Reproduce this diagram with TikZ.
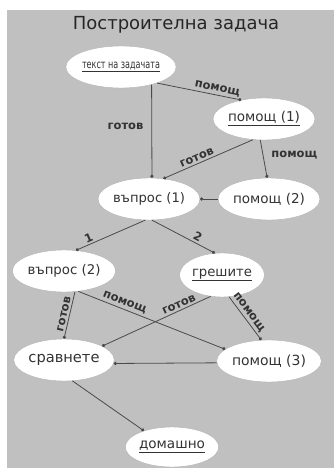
\documentclass[tikz,border=0pt]{standalone}
\usepackage{fontspec}
\setmainfont{DejaVu Sans}
\usetikzlibrary{shapes.geometric,arrows.meta}
\definecolor{bg}{HTML}{C0C0C0}
\definecolor{ln}{HTML}{4A4A4A}
\definecolor{tx}{HTML}{333333}
\begin{document}
\begin{tikzpicture}[x=1pt,y=-1pt,
  nd/.style={ellipse, draw=gray!60, fill=white, inner sep=0pt, minimum width=80pt, minimum height=42pt, text=tx},
  lab/.style={font=\fontsize{11.5}{13}\selectfont\bfseries, text=tx, inner sep=2pt},
  ar/.style={draw=ln, line width=0.8pt, -{Circle[length=3.2pt]}}]
\useasboundingbox (0,0) rectangle (336,468);
\fill[white] (0,0) rectangle (336,468);
\fill[bg] (7,10) rectangle (334,468);
\node[font=\fontsize{18}{20}\selectfont, text=black!85] (title) at (176,25) {Построителна задача};
\node[nd, minimum width=86pt, minimum height=42pt] (T) at (121,67) {\scalebox{0.7}[1]{\fontsize{11.5}{13}\selectfont\underline{текст на задачата}}};
\node[nd] (P1) at (264,119) {\resizebox{72pt}{!}{\underline{помощ (1)}}};
\node[nd] (Q1) at (149,199) {\resizebox{72pt}{!}{въпрос (1)}};
\node[nd] (P2) at (269,199) {\resizebox{72pt}{!}{помощ (2)}};
\node[nd] (Q2) at (64,271) {\resizebox{73pt}{!}{въпрос (2)}};
\node[nd, minimum height=44pt] (G) at (222,275) {\resizebox{60pt}{!}{\underline{грешите}}};
\node[nd, minimum width=82pt] (S) at (64,360) {\resizebox{71pt}{!}{сравнете}};
\node[nd] (P3) at (269,361) {\resizebox{74pt}{!}{помощ (3)}};
\node[nd, minimum width=76pt, minimum height=40pt] (D) at (172,447) {\resizebox{66pt}{!}{\underline{домашно}}};

\draw[ar] (T.-30) -- node[lab, pos=0.45, left=6pt] {готов} (Q1.82);
\draw[ar] (T.-24) -- node[lab, pos=0.7, above, sloped] {помощ} (P1.140);
\draw[ar] (P1.-118) -- node[lab, pos=0.6, above, sloped] {готов} (Q1.55);
\draw[ar] (P1.-100) -- node[lab, pos=0.4, right=6pt] {помощ} (P2.95);
\draw[ar] (P2.west) -- (Q1.east);
\draw[ar] (Q1.-100) -- node[lab, pos=0.78, above, sloped] {1} (Q2.60);
\draw[ar] (Q1.-82) -- node[lab, pos=0.68, above, sloped] {2} (G.108);
\draw[ar] (Q2.-62) -- node[lab, pos=0.5, above, sloped] {готов} (S.90);
\draw[ar] (Q2.-55) -- node[lab, pos=0.3, above, sloped] {помощ} (P3.165);
\draw[ar] (G.-118) -- node[lab, pos=0.27, above, sloped] {готов} (S.20);
\draw[ar] (G.-72) -- node[lab, pos=0.45, above, sloped] {помощ} (P3.110);
\draw[ar] (P3.182) -- (S.-4);
\draw[ar] (S.-68) -- (D.150);
\end{tikzpicture}
\end{document}
